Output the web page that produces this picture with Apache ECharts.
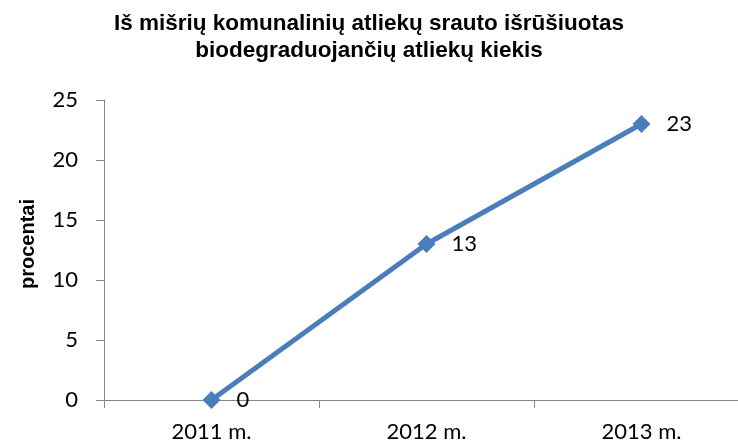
<!DOCTYPE html>
<html>
<head>
<meta charset="utf-8">
<script src="https://cdn.jsdelivr.net/npm/echarts@6/dist/echarts.min.js"></script>
<style>
  html, body { margin: 0; padding: 0; background: #fff; }
  #chart { width: 738px; height: 448px; }
</style>
</head>
<body>
<div id="chart"></div>
<script>
var years = ['2011 m.', '2012 m.', '2013 m.'];
var values = [0, 13, 23];
var yTicks = [0, 5, 10, 15, 20, 25];

var chart = echarts.init(document.getElementById('chart'));

var axisColor = '#868686';
var lineColor = '#4A7EBB';

var option = {
  animation: false,
  title: {
    text: 'Iš mišrių komunalinių atliekų srauto išrūšiuotas\nbiodegraduojančių atliekų kiekis',
    left: 'center',
    top: 10,
    padding: 0,
    textStyle: {
      fontFamily: 'Liberation Sans',
      fontSize: 22.5,
      fontWeight: 'bold',
      color: '#000',
      lineHeight: 27
    }
  },
  grid: {
    left: 104,
    top: 100,
    width: 645,
    height: 300,
    outerBoundsMode: 'none'
  },
  xAxis: {
    type: 'category',
    data: years,
    boundaryGap: true,
    axisLine: { lineStyle: { color: axisColor, width: 1 } },
    axisTick: { show: true, length: 8, lineStyle: { color: axisColor } },
    axisLabel: {
      margin: 21,
      color: '#000',
      fontFamily: 'Lato',
      fontSize: 22
    },
    splitLine: { show: false }
  },
  yAxis: {
    type: 'value',
    min: yTicks[0],
    max: yTicks[yTicks.length - 1],
    interval: 5,
    name: 'procentai',
    nameLocation: 'middle',
    nameRotate: 90,
    nameGap: 66,
    nameTextStyle: {
      fontFamily: 'Liberation Sans',
      fontWeight: 'bold',
      fontSize: 20,
      color: '#000',
      padding: [0, 0, 0, 12]
    },
    axisLine: { show: true, lineStyle: { color: axisColor, width: 1 } },
    axisTick: { show: true, length: 8, lineStyle: { color: axisColor } },
    axisLabel: {
      margin: 26,
      color: '#000',
      fontFamily: 'Lato',
      fontSize: 22
    },
    splitLine: { show: false }
  },
  series: [{
    type: 'line',
    data: values,
    symbol: 'diamond',
    symbolSize: 18,
    itemStyle: { color: lineColor },
    lineStyle: { color: lineColor, width: 5 },
    label: {
      show: true,
      position: 'right',
      distance: 16,
      color: '#000',
      fontFamily: 'Lato',
      fontSize: 22
    }
  }]
};

chart.setOption(option);
</script>
</body>
</html>
